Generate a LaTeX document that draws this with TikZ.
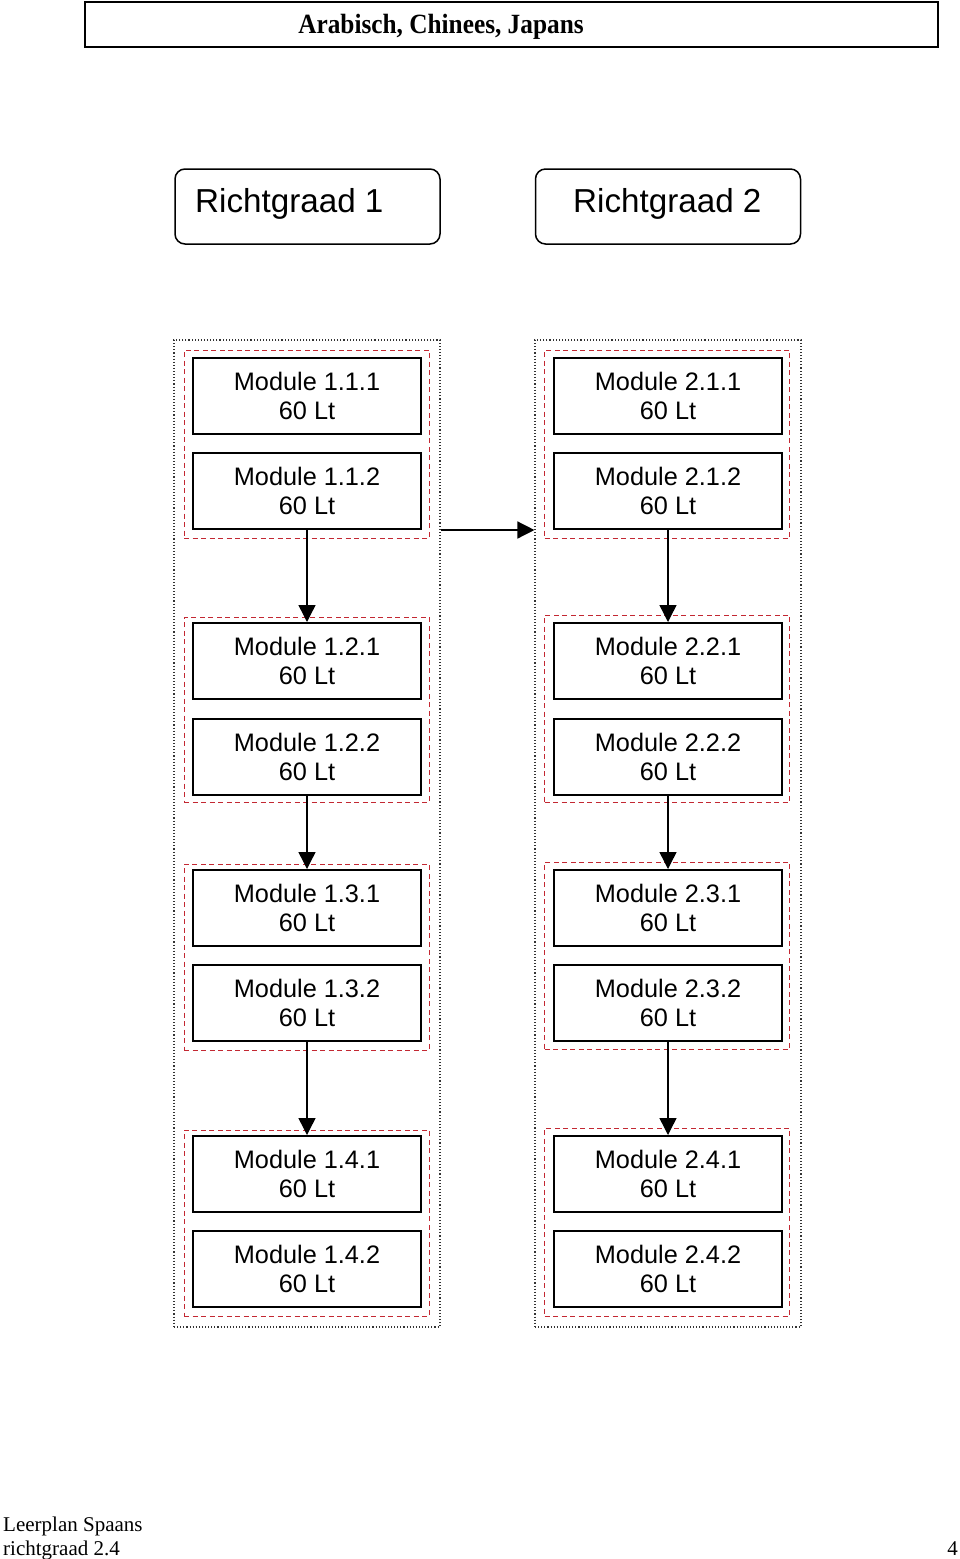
\documentclass[tikz,border=0pt]{standalone}
\usepackage{fontspec}
\setmainfont{Liberation Serif}
\setsansfont{Liberation Sans}
\usetikzlibrary{arrows.meta}
\definecolor{grpred}{RGB}{195,40,50}
\tikzset{
  mod/.style={draw, line width=2pt, minimum width=228pt, minimum height=76pt, inner sep=0pt, align=center,
    font=\sffamily\fontsize{25.3}{29}\selectfont},
  grp/.style={draw=grpred, dashed, dash pattern=on 5pt off 3.5pt, line width=1pt, minimum width=245pt, inner sep=0pt},
  outer/.style={draw=black!80, dotted, line width=1.1pt, minimum width=266pt, minimum height=987pt, inner sep=0pt},
  rg/.style={draw, line width=1.5pt, rounded corners=10pt, minimum width=265pt, minimum height=75pt, inner sep=0pt},
  rgtext/.style={font=\sffamily\fontsize{33.2}{38}\selectfont, inner sep=0pt},
  conn/.style={line width=1.4pt, -{Triangle[length=17pt,width=17pt]}},
  foot/.style={font=\fontsize{21}{24}\selectfont, inner sep=0pt},
}
\begin{document}
\begin{tikzpicture}[x=1pt,y=-1pt]
\useasboundingbox (0,0) rectangle (960,1559);
% title
\node[draw, line width=2.5pt, minimum width=853pt, minimum height=45pt, inner sep=0pt] (title) at (511.5,24.5) {};
\node[font=\bfseries\fontsize{25.3}{29}\selectfont, inner sep=0pt, anchor=base] (titletext) at (441,33) {\scalebox{1}[1.1]{Arabisch, Chinees, Japans}};
% richtgraad boxes
\node[rg] (rg1) at (307.5,206.5) {};
\node[rg] (rg2) at (668,206.5) {};
\node[rgtext, anchor=base west] (rg1t) at (195,212) {Richtgraad 1};
\node[rgtext, anchor=base west] (rg2t) at (573,212) {Richtgraad 2};
% outer dotted columns
\node[outer] (o1) at (307,833.5) {};
\node[outer] (o2) at (668,833.5) {};
% red dashed groups
\node[grp, minimum height=188pt] (g11) at (306.5,444) {};
\node[grp, minimum height=185pt] (g12) at (306.5,709.5) {};
\node[grp, minimum height=186pt] (g13) at (306.5,957) {};
\node[grp, minimum height=186pt] (g14) at (306.5,1223) {};
\node[grp, minimum height=188pt] (g21) at (667,444) {};
\node[grp, minimum height=187pt] (g22) at (667,708.5) {};
\node[grp, minimum height=187pt] (g23) at (667,955.5) {};
\node[grp, minimum height=188pt] (g24) at (667,1222) {};
% modules left
\node[mod] (m111) at (307,396) {Module 1.1.1\\60 Lt};
\node[mod] (m112) at (307,491) {Module 1.1.2\\60 Lt};
\node[mod] (m121) at (307,661) {Module 1.2.1\\60 Lt};
\node[mod] (m122) at (307,756.5) {Module 1.2.2\\60 Lt};
\node[mod] (m131) at (307,908) {Module 1.3.1\\60 Lt};
\node[mod] (m132) at (307,1003) {Module 1.3.2\\60 Lt};
\node[mod] (m141) at (307,1174) {Module 1.4.1\\60 Lt};
\node[mod] (m142) at (307,1269) {Module 1.4.2\\60 Lt};
% modules right
\node[mod] (m211) at (668,396) {Module 2.1.1\\60 Lt};
\node[mod] (m212) at (668,491) {Module 2.1.2\\60 Lt};
\node[mod] (m221) at (668,661) {Module 2.2.1\\60 Lt};
\node[mod] (m222) at (668,756.5) {Module 2.2.2\\60 Lt};
\node[mod] (m231) at (668,908) {Module 2.3.1\\60 Lt};
\node[mod] (m232) at (668,1003) {Module 2.3.2\\60 Lt};
\node[mod] (m241) at (668,1174) {Module 2.4.1\\60 Lt};
\node[mod] (m242) at (668,1269) {Module 2.4.2\\60 Lt};
% connectors
\draw[conn] (m112.south) -- (m121.north);
\draw[conn] (m122.south) -- (m131.north);
\draw[conn] (m132.south) -- (m141.north);
\draw[conn] (m212.south) -- (m221.north);
\draw[conn] (m222.south) -- (m231.north);
\draw[conn] (m232.south) -- (m241.north);
\draw[conn] (o1.east |- m112.south) -- (o2.west |- m112.south);
% footer
\node[foot, anchor=base west] (f1) at (3,1531) {Leerplan Spaans};
\node[foot, anchor=base west] (f2) at (3,1555) {richtgraad 2.4};
\node[foot, anchor=base east] (f3) at (958,1555) {4};
\end{tikzpicture}
\end{document}
